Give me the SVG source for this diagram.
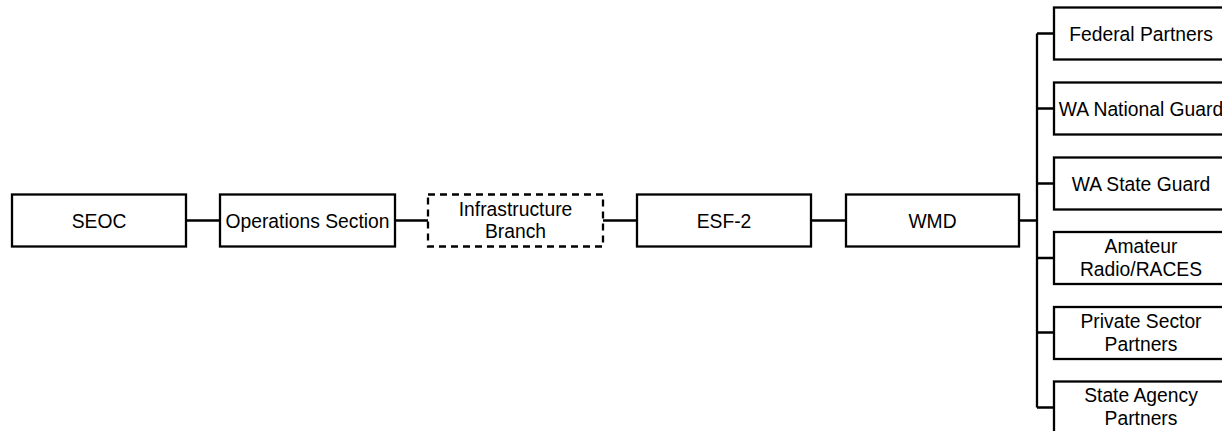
<svg xmlns="http://www.w3.org/2000/svg" width="1222" height="431" viewBox="0 0 1222 431">
<style>
.box{fill:#fff;stroke:#000;stroke-width:2.3}
.dash{fill:#fff;stroke:#000;stroke-width:2.3;stroke-dasharray:7 5}
.t{font-family:"Liberation Sans",Arial,sans-serif;font-size:19.3px;fill:#000;text-anchor:middle}
.c{fill:none;stroke:#000;stroke-width:2.3}
</style>
<rect width="1222" height="431" fill="#fff"/>
<g id="connectors">
<path class="c" d="M186 220.5H220M395 220.5H428M603 220.5H637M811 220.5H846M1019 220.5H1037M1037 33.5V407.5M1037 33.5H1054M1037 108.5H1054M1037 183.5H1054M1037 258H1054M1037 332.5H1054M1037 407.5H1054"/>
</g>
<g id="seoc"><rect class="box" x="12" y="194.5" width="174" height="52"/><text class="t" x="99" y="227.5">SEOC</text></g>
<g id="ops"><rect class="box" x="220" y="194.5" width="175" height="52"/><text class="t" x="307.5" y="227.5">Operations Section</text></g>
<g id="infra"><rect class="dash" x="428" y="194.5" width="175" height="52"/><text class="t" x="515.5" y="215.7">Infrastructure</text><text class="t" x="515.5" y="238">Branch</text></g>
<g id="esf2"><rect class="box" x="637" y="194.5" width="174" height="52"/><text class="t" x="724" y="227.5">ESF-2</text></g>
<g id="wmd"><rect class="box" x="846" y="194.5" width="173" height="52"/><text class="t" x="932.5" y="227.5">WMD</text></g>
<g id="federal"><rect class="box" x="1054" y="7.5" width="174" height="52"/><text class="t" x="1141" y="40.5">Federal Partners</text></g>
<g id="wang"><rect class="box" x="1054" y="82.5" width="174" height="52"/><text class="t" x="1141" y="115.5">WA National Guard</text></g>
<g id="wasg"><rect class="box" x="1054" y="157.5" width="174" height="52"/><text class="t" x="1141" y="190.5">WA State Guard</text></g>
<g id="amateur"><rect class="box" x="1054" y="232" width="174" height="52"/><text class="t" x="1141" y="252.5">Amateur</text><text class="t" x="1141" y="275.5">Radio/RACES</text></g>
<g id="private"><rect class="box" x="1054" y="307" width="174" height="52"/><text class="t" x="1141" y="327.5">Private Sector</text><text class="t" x="1141" y="350.5">Partners</text></g>
<g id="stateagency"><rect class="box" x="1054" y="381.5" width="174" height="52"/><text class="t" x="1141" y="402">State Agency</text><text class="t" x="1141" y="425">Partners</text></g>
</svg>
